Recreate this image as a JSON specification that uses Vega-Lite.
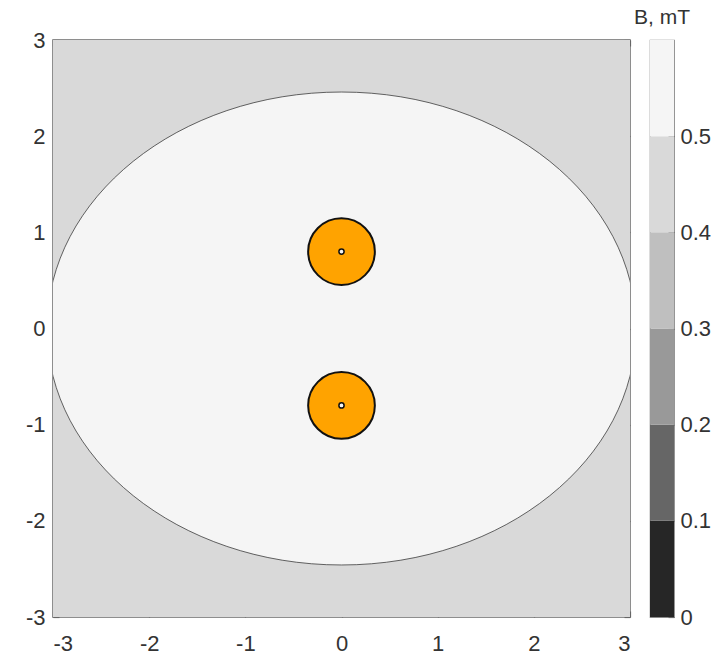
{
  "$schema": "https://vega.github.io/schema/vega-lite/v6.json",
  "background": "white",
  "padding": {"left": 24, "top": 6, "right": 3, "bottom": 3},
  "config": {
    "font": "Liberation Sans",
    "view": {"stroke": "#6a6a6a", "strokeWidth": 1.5},
    "axis": {
      "domain": false,
      "grid": false,
      "ticks": true,
      "tickSize": -6,
      "tickColor": "#666666",
      "tickWidth": 1.2,
      "labelFontSize": 22,
      "labelColor": "#333333",
      "labelPadding": 14,
      "title": null
    }
  },
  "datasets": {
    "field": [{"x1": -3, "x2": 3, "y1": -3, "y2": 3, "B": 0.45}],
    "region": [{"x": 0, "y": 0, "B": 0.55}],
    "conductors": [{"x": 0, "y": 0.8}, {"x": 0, "y": -0.8}],
    "bands": [
      {"B": 0, "B2": 0.1},
      {"B": 0.1, "B2": 0.2},
      {"B": 0.2, "B2": 0.3},
      {"B": 0.3, "B2": 0.4},
      {"B": 0.4, "B2": 0.5},
      {"B": 0.5, "B2": 0.6}
    ]
  },
  "spacing": 20,
  "bounds": "flush",
  "hconcat": [
    {
      "width": 577,
      "height": 577,
      "resolve": {"axis": {"x": "independent", "y": "independent"}},
      "layer": [
        {
          "data": {"name": "field"},
          "mark": {"type": "rect"},
          "encoding": {
            "x": {"field": "x1", "type": "quantitative", "scale": {"domain": [-3, 3], "nice": false, "zero": false},
                  "axis": {"orient": "bottom", "values": [-3, -2, -1, 0, 1, 2, 3], "labelPadding": 22,
                           "labelExpr": "replace(datum.label, '\u2212', '-')"}},
            "x2": {"field": "x2"},
            "y": {"field": "y1", "type": "quantitative", "scale": {"domain": [-3, 3], "nice": false, "zero": false},
                  "axis": {"orient": "left", "values": [-3, -2, -1, 0, 1, 2, 3], "labelPadding": 14,
                           "labelExpr": "replace(datum.label, '\u2212', '-')"}},
            "y2": {"field": "y2"},
            "color": {"field": "B", "type": "quantitative",
                      "scale": {"type": "threshold", "domain": [0.1, 0.2, 0.3, 0.4, 0.5],
                                "range": ["#262626", "#666666", "#999999", "#bfbfbf", "#d9d9d9", "#f5f5f5"]},
                      "legend": null}
          }
        },
        {
          "data": {"name": "region"},
          "mark": {"type": "point", "shape": "M-1,0A1,0.803,0,1,1,1,0A1,0.803,0,1,1,-1,0Z",
                   "size": 346921, "filled": true, "opacity": 1, "stroke": "#3c3c3c", "strokeWidth": 0.8, "clip": true},
          "encoding": {
            "x": {"field": "x", "type": "quantitative", "axis": null},
            "y": {"field": "y", "type": "quantitative", "axis": null},
            "fill": {"field": "B", "type": "quantitative",
                     "scale": {"type": "threshold", "domain": [0.1, 0.2, 0.3, 0.4, 0.5],
                               "range": ["#262626", "#666666", "#999999", "#bfbfbf", "#d9d9d9", "#f5f5f5"]},
                     "legend": null}
          }
        },
        {
          "data": {"name": "conductors"},
          "mark": {"type": "point", "shape": "circle", "size": 4450, "filled": true, "opacity": 1,
                   "fill": "#ffa300", "stroke": "#111111", "strokeWidth": 2},
          "encoding": {
            "x": {"field": "x", "type": "quantitative", "axis": null},
            "y": {"field": "y", "type": "quantitative", "axis": null}
          }
        },
        {
          "data": {"name": "conductors"},
          "mark": {"type": "point", "shape": "circle", "size": 27, "filled": true, "opacity": 1,
                   "fill": "#f4f4f4", "stroke": "#111111", "strokeWidth": 1.5},
          "encoding": {
            "x": {"field": "x", "type": "quantitative",
                  "axis": {"orient": "top", "labels": false, "values": [-3, -2, -1, 0, 1, 2, 3]}},
            "y": {"field": "y", "type": "quantitative",
                  "axis": {"orient": "right", "labels": false, "values": [-3, -2, -1, 0, 1, 2, 3]}}
          }
        }
      ]
    },
    {
      "width": 24,
      "height": 577,
      "view": {"stroke": "#8a8a8a", "strokeWidth": 1.2},
      "title": {"text": "B, mT", "fontSize": 21, "fontWeight": "normal", "color": "#333333", "offset": 12},
      "data": {"name": "bands"},
      "mark": {"type": "rect"},
      "encoding": {
        "y": {"field": "B", "type": "quantitative", "scale": {"domain": [0, 0.6], "nice": false, "zero": false},
              "axis": {"orient": "right", "values": [0, 0.1, 0.2, 0.3, 0.4, 0.5], "format": "~g", "labelPadding": 12}},
        "y2": {"field": "B2"},
        "color": {"field": "B", "type": "quantitative",
                  "scale": {"type": "threshold", "domain": [0.1, 0.2, 0.3, 0.4, 0.5],
                            "range": ["#262626", "#666666", "#999999", "#bfbfbf", "#d9d9d9", "#f5f5f5"]},
                  "legend": null}
      }
    }
  ]
}
